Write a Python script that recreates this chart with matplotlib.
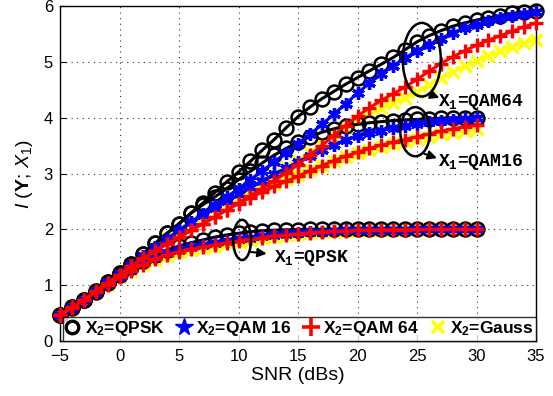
import matplotlib
matplotlib.use("Agg")
import matplotlib.pyplot as plt
from matplotlib.patches import Ellipse
from matplotlib.lines import Line2D

plt.rcParams['font.family'] = ['Liberation Sans', 'DejaVu Sans']
plt.rcParams['mathtext.fontset'] = 'custom'
plt.rcParams['mathtext.rm'] = 'Liberation Sans'
plt.rcParams['mathtext.it'] = 'Liberation Sans:italic'
plt.rcParams['mathtext.bf'] = 'Liberation Sans:bold'

# ---------------- data ----------------
snr_short = list(range(-5, 31))   # X1 = QPSK, QAM16
snr_long = list(range(-5, 36))    # X1 = QAM64

# X1 = QPSK
qpsk_x2qpsk = [0.47, 0.59, 0.73, 0.88, 1.03, 1.18, 1.32, 1.44, 1.54, 1.63, 1.70, 1.76,
               1.81, 1.86, 1.90, 1.93, 1.96, 1.975, 1.985, 1.99, 1.995,
               2.0, 2.0, 2.0, 2.0, 2.0, 2.0, 2.0, 2.0, 2.0, 2.0, 2.0, 2.0, 2.0, 2.0, 2.0]
qpsk_x2qam16 = [0.47, 0.59, 0.73, 0.87, 1.02, 1.15, 1.28, 1.39, 1.49, 1.57, 1.63, 1.68,
                1.72, 1.76, 1.79, 1.82, 1.85, 1.88, 1.90, 1.92, 1.94, 1.95, 1.96, 1.97,
                1.98, 1.985, 1.99, 1.99, 1.995, 1.995, 2.0, 2.0, 2.0, 2.0, 2.0, 2.0]
qpsk_x2qam64 = [0.47, 0.59, 0.73, 0.87, 1.01, 1.14, 1.26, 1.37, 1.46, 1.54, 1.60, 1.64,
                1.68, 1.72, 1.76, 1.79, 1.82, 1.85, 1.88, 1.90, 1.92, 1.94, 1.95, 1.965,
                1.975, 1.98, 1.985, 1.99, 1.993, 1.995, 2.0, 2.0, 2.0, 2.0, 2.0, 2.0]
qpsk_x2gauss = [0.47, 0.59, 0.73, 0.87, 1.01, 1.14, 1.26, 1.36, 1.45, 1.53, 1.59, 1.63,
                1.67, 1.71, 1.75, 1.78, 1.81, 1.84, 1.87, 1.89, 1.91, 1.93, 1.95, 1.96,
                1.97, 1.98, 1.985, 1.99, 1.993, 1.995, 2.0, 2.0, 2.0, 2.0, 2.0, 2.0]

# X1 = QAM16
qam16_x2qpsk = [0.47, 0.60, 0.74, 0.90, 1.05, 1.21, 1.38, 1.56, 1.75, 1.93, 2.10, 2.29,
                2.44, 2.58, 2.73, 2.89, 3.04, 3.19, 3.33, 3.45, 3.56, 3.66, 3.74, 3.80,
                3.85, 3.88, 3.91, 3.93, 3.95, 3.96, 3.97, 3.98, 3.99, 4.0, 4.0, 4.0]
qam16_x2qam16 = [0.47, 0.60, 0.74, 0.90, 1.05, 1.20, 1.36, 1.52, 1.68, 1.83, 1.98, 2.13,
                 2.26, 2.39, 2.51, 2.63, 2.75, 2.87, 2.99, 3.10, 3.21, 3.32, 3.43, 3.52,
                 3.60, 3.67, 3.72, 3.77, 3.81, 3.85, 3.89, 3.92, 3.94, 3.96, 3.98, 3.99]
qam16_x2qam64 = [0.47, 0.60, 0.74, 0.89, 1.04, 1.19, 1.34, 1.48, 1.61, 1.74, 1.86, 1.98,
                 2.10, 2.22, 2.35, 2.46, 2.57, 2.67, 2.77, 2.86, 2.95, 3.05, 3.14, 3.23,
                 3.31, 3.38, 3.45, 3.51, 3.56, 3.61, 3.66, 3.71, 3.76, 3.80, 3.84, 3.87]
qam16_x2gauss = [0.47, 0.60, 0.74, 0.90, 1.05, 1.20, 1.36, 1.52, 1.68, 1.84, 1.99, 2.13,
                 2.26, 2.39, 2.49, 2.58, 2.66, 2.74, 2.82, 2.90, 2.98, 3.06, 3.14, 3.22,
                 3.29, 3.36, 3.42, 3.48, 3.53, 3.58, 3.62, 3.66, 3.70, 3.73, 3.76, 3.79]

# X1 = QAM64
qam64_x2qpsk = [0.47, 0.60, 0.74, 0.90, 1.05, 1.21, 1.38, 1.56, 1.75, 1.93, 2.10, 2.29,
                2.47, 2.66, 2.85, 3.03, 3.22, 3.42, 3.61, 3.82, 4.02, 4.19, 4.34, 4.47,
                4.60, 4.72, 4.84, 4.96, 5.08, 5.22, 5.36, 5.47, 5.56, 5.64, 5.70, 5.75,
                5.79, 5.83, 5.87, 5.89, 5.92]
qam64_x2qam16 = [0.47, 0.60, 0.74, 0.90, 1.05, 1.20, 1.36, 1.52, 1.68, 1.83, 1.98, 2.13,
                 2.28, 2.43, 2.58, 2.73, 2.89, 3.05, 3.21, 3.37, 3.53, 3.70, 3.88, 4.06,
                 4.25, 4.44, 4.62, 4.78, 4.93, 5.07, 5.20, 5.31, 5.42, 5.52, 5.60, 5.67,
                 5.73, 5.78, 5.82, 5.86, 5.89]
qam64_x2qam64 = [0.47, 0.60, 0.74, 0.89, 1.04, 1.19, 1.34, 1.48, 1.61, 1.74, 1.86, 1.98,
                 2.10, 2.22, 2.35, 2.47, 2.60, 2.73, 2.87, 3.01, 3.16, 3.33, 3.50, 3.68,
                 3.86, 4.03, 4.18, 4.31, 4.43, 4.55, 4.69, 4.83, 4.97, 5.09, 5.20, 5.30,
                 5.39, 5.47, 5.55, 5.63, 5.70]
qam64_x2gauss = [0.47, 0.60, 0.74, 0.90, 1.05, 1.20, 1.36, 1.52, 1.68, 1.84, 1.99, 2.13,
                 2.26, 2.39, 2.51, 2.63, 2.75, 2.87, 2.99, 3.11, 3.23, 3.37, 3.52, 3.67,
                 3.82, 3.96, 4.07, 4.17, 4.26, 4.35, 4.47, 4.59, 4.71, 4.82, 4.92, 5.01,
                 5.10, 5.19, 5.27, 5.34, 5.40]

legend_labels = [r"$\mathbf{X_2}$=QPSK", r"$\mathbf{X_2}$=QAM 16",
                 r"$\mathbf{X_2}$=QAM 64", r"$\mathbf{X_2}$=Gauss"]
group_labels = [r"X$_\mathtt{1}$=QPSK", r"X$_\mathtt{1}$=QAM16", r"X$_\mathtt{1}$=QAM64"]
plt.rcParams['mathtext.tt'] = 'Liberation Mono:bold'

# ---------------- styles ----------------
asterisk = (6, 2, 0)
styles = [
    dict(color='black', marker='o', mfc='none', mec='black', ms=10, mew=1.8, zorder=3),
    dict(color='blue', marker=asterisk, mec='blue', ms=9, mew=2.4, zorder=4),
    dict(color='red', marker='+', mec='red', ms=10, mew=2.4, zorder=5),
    dict(color='yellow', marker='x', mec='yellow', ms=8, mew=2.4, zorder=2),
]

fig = plt.figure(figsize=(5.53, 3.96), dpi=100)
ax = fig.add_axes([0.1085, 0.139, 0.8608, 0.8455])

groups = [
    (snr_short, [qpsk_x2qpsk, qpsk_x2qam16, qpsk_x2qam64, qpsk_x2gauss]),
    (snr_short, [qam16_x2qpsk, qam16_x2qam16, qam16_x2qam64, qam16_x2gauss]),
    (snr_long, [qam64_x2qpsk, qam64_x2qam16, qam64_x2qam64, qam64_x2gauss]),
]
for xs, series in groups:
    for ys, st in zip(series, styles):
        ax.plot(xs, ys, lw=2.2, clip_on=False, **st)

ax.set_xlim(-5, 35)
ax.set_ylim(0, 6)
ax.set_xticks(range(-5, 36, 5))
ax.set_yticks(range(0, 7))
ax.set_xticklabels(['\u22125'] + [str(v) for v in range(0, 36, 5)])
ax.tick_params(labelsize=12, direction='in', length=4, width=0.8)
ax.tick_params(axis='x', pad=6)
ax.tick_params(axis='y', pad=5)
ax.grid(True, linestyle=(0, (1, 4)), color='black', linewidth=0.8, alpha=0.8)
ax.set_axisbelow(True)
for sp in ax.spines.values():
    sp.set_linewidth(1.0)

ax.set_xlabel('SNR (dBs)', fontsize=14, labelpad=2)
ax.set_ylabel(r'$I\ (\mathbf{Y};\,X_1)$', fontsize=14, labelpad=6)

# ellipses and labels
ell_specs = [((10.3, 1.81), 1.5, 0.72), ((24.85, 3.75), 2.5, 0.88), ((25.4, 5.04), 3.2, 1.32)]
arrow_specs = [((10.8, 1.60), (12.6, 1.56)), ((25.4, 3.37), (26.9, 3.26)), ((26.1, 4.42), (27.1, 4.34))]
text_pos = [(13.0, 1.48), (26.8, 3.20), (26.8, 4.28)]
for (c, w, h), (a0, a1), tp, lab in zip(ell_specs, arrow_specs, text_pos, group_labels):
    ax.add_patch(Ellipse(c, w, h, fill=False, edgecolor='black', lw=1.8, zorder=6))
    ax.annotate('', xy=a1, xytext=a0,
                arrowprops=dict(arrowstyle='-|>', color='black', lw=1.5,
                                mutation_scale=13), zorder=6)
    ax.text(tp[0], tp[1], lab, fontsize=13, fontweight='bold',
            family=['Liberation Mono', 'DejaVu Sans Mono'], va='center', ha='left',
            clip_on=False, zorder=7)

handles = [
    Line2D([], [], ls='none', marker='o', mfc='none', mec='black', ms=9, mew=2.4),
    Line2D([], [], ls='none', marker='*', color='blue', ms=13),
    Line2D([], [], ls='none', marker='+', color='red', ms=13, mew=2.6),
    Line2D([], [], ls='none', marker='x', color='yellow', ms=9, mew=2.6),
]
leg = ax.legend(handles, legend_labels, loc='lower left', bbox_to_anchor=(0.006, 0.0, 0.994, 0.078),
                mode='expand', ncol=4, frameon=True, fancybox=False, edgecolor='black',
                prop={'weight': 'bold', 'size': 12.5}, handlelength=0.8, handletextpad=0.3,
                columnspacing=0.3, borderpad=0.15, borderaxespad=0.0)
leg.get_frame().set_linewidth(1.0)
leg.set_zorder(10)

fig.savefig('out.png', dpi=100)
